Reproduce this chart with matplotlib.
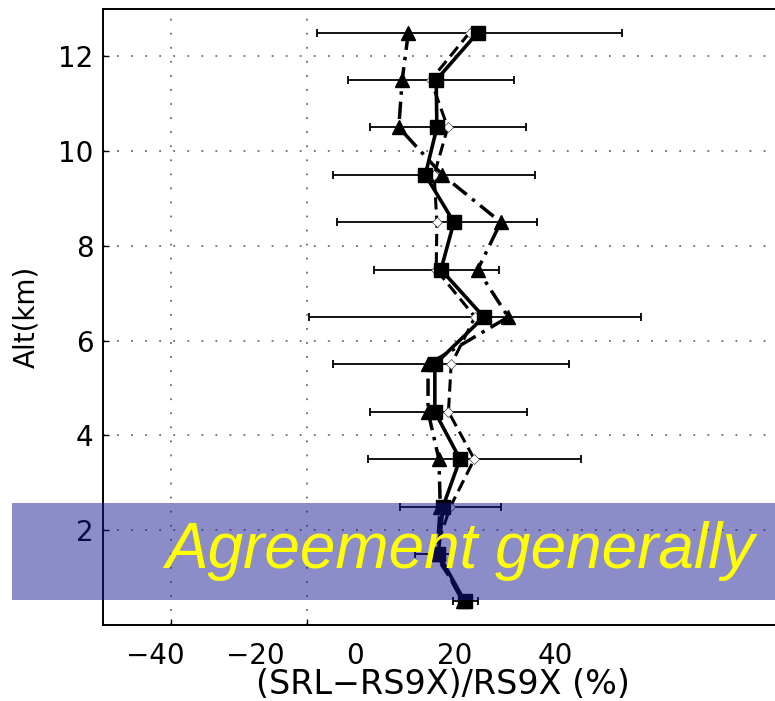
"""
Relative difference profile SRL vs RS9X radiosonde, with the highlighted
low-altitude band.
"""
import matplotlib
matplotlib.use("Agg")
import matplotlib.pyplot as plt
from matplotlib.patches import Rectangle

plt.rcParams['font.family'] = ['DejaVu Sans']

# altitude levels (km)
alt = [12.5, 11.5, 10.5, 9.5, 8.5, 7.5, 6.5, 5.5, 4.5, 3.5, 2.5, 1.5, 0.5]

# solid / squares
sq_diff = [5.1, -1.0, -0.9, -2.6, 1.6, -0.3, 6.0, -1.2, -1.2, 2.5, 0.0, -0.7, 3.2]
# dashed / open diamonds, carries the error bars
dm_diff = [3.9, -1.8, 0.7, -1.3, -0.9, -1.0, 4.7, 1.2, 0.8, 4.6, 1.1, -1.3, 3.3]
dm_err = [22.4, 12.2, 11.5, 14.9, 14.7, 9.2, 24.4, 17.4, 11.5, 15.7, 7.4, 2.8, 1.8]
# dash-dot / triangles
tr_diff = [-5.1, -6.0, -6.5, -0.1, 8.5, 5.1, 9.6, -2.2, -2.2, -0.6, -0.4, -0.9, 2.9]

xticks = [-40, -20, 0, 20, 40]
yticks = [2, 4, 6, 8, 10, 12]

fig = plt.figure(figsize=(7.75, 7.01), dpi=100)
ax = fig.add_axes([103 / 775, 76 / 701, 680 / 775, 616 / 701])

ax.errorbar(dm_diff, alt, xerr=dm_err, fmt='none', ecolor='black',
            elinewidth=1.3, capsize=3, capthick=1.3, zorder=2)
ax.plot(dm_diff, alt, color='black', lw=2.2, ls=(0, (4, 2)),
        marker='D', ms=5.5, mfc='white', mec='#444444', mew=0.5, zorder=3)
ax.plot(tr_diff, alt, color='black', lw=2.5, ls=(0, (5, 2, 1, 2)),
        marker='^', ms=10, zorder=4)
ax.plot(sq_diff, alt, color='black', lw=2.6, ls='-',
        marker='s', ms=10.5, zorder=5)

ax.set_xlim(-50, 50)
ax.set_ylim(0, 13)
ax.set_xticks([-40, -20])
ax.set_xticklabels([])
ax.set_yticks(yticks)
ax.tick_params(axis='both', direction='in', length=4, width=1,
               labelsize=20, pad=7)
ax.grid(True, color='#555555', lw=1.1, ls=(0, (1.2, 8)))
for s in ax.spines.values():
    s.set_linewidth(1.4)
ax.set_ylabel('Alt(km)', fontsize=20, labelpad=13)

# tick labels run on their own scale below the frame
sec = ax.secondary_xaxis('bottom', functions=(lambda d: (88 + 6.8 * d) / 5.0,
                                              lambda l: (5.0 * l - 88) / 6.8))
sec.set_xticks(xticks)
sec.set_xticklabels([f'\u2212{-t}' if t < 0 else str(t) for t in xticks])
sec.tick_params(length=0, labelsize=20, pad=12)
sec.spines['bottom'].set_visible(False)
sec.set_xlabel('(SRL\u2212RS9X)/RS9X (%)', fontsize=24, labelpad=-1)

# highlighted band with caption
fig.add_artist(Rectangle((12 / 775, 101 / 701), 763 / 775, 97 / 701,
                         transform=fig.transFigure, facecolor='#14148f',
                         alpha=0.49, edgecolor='none', zorder=5))
fig.text(755 / 775, 150 / 701, 'Agreement generally', color='#ffff00',
         fontsize=46, style='italic', ha='right', va='center', zorder=6,
         family='Liberation Sans')

fig.savefig('out.png', dpi=100)
